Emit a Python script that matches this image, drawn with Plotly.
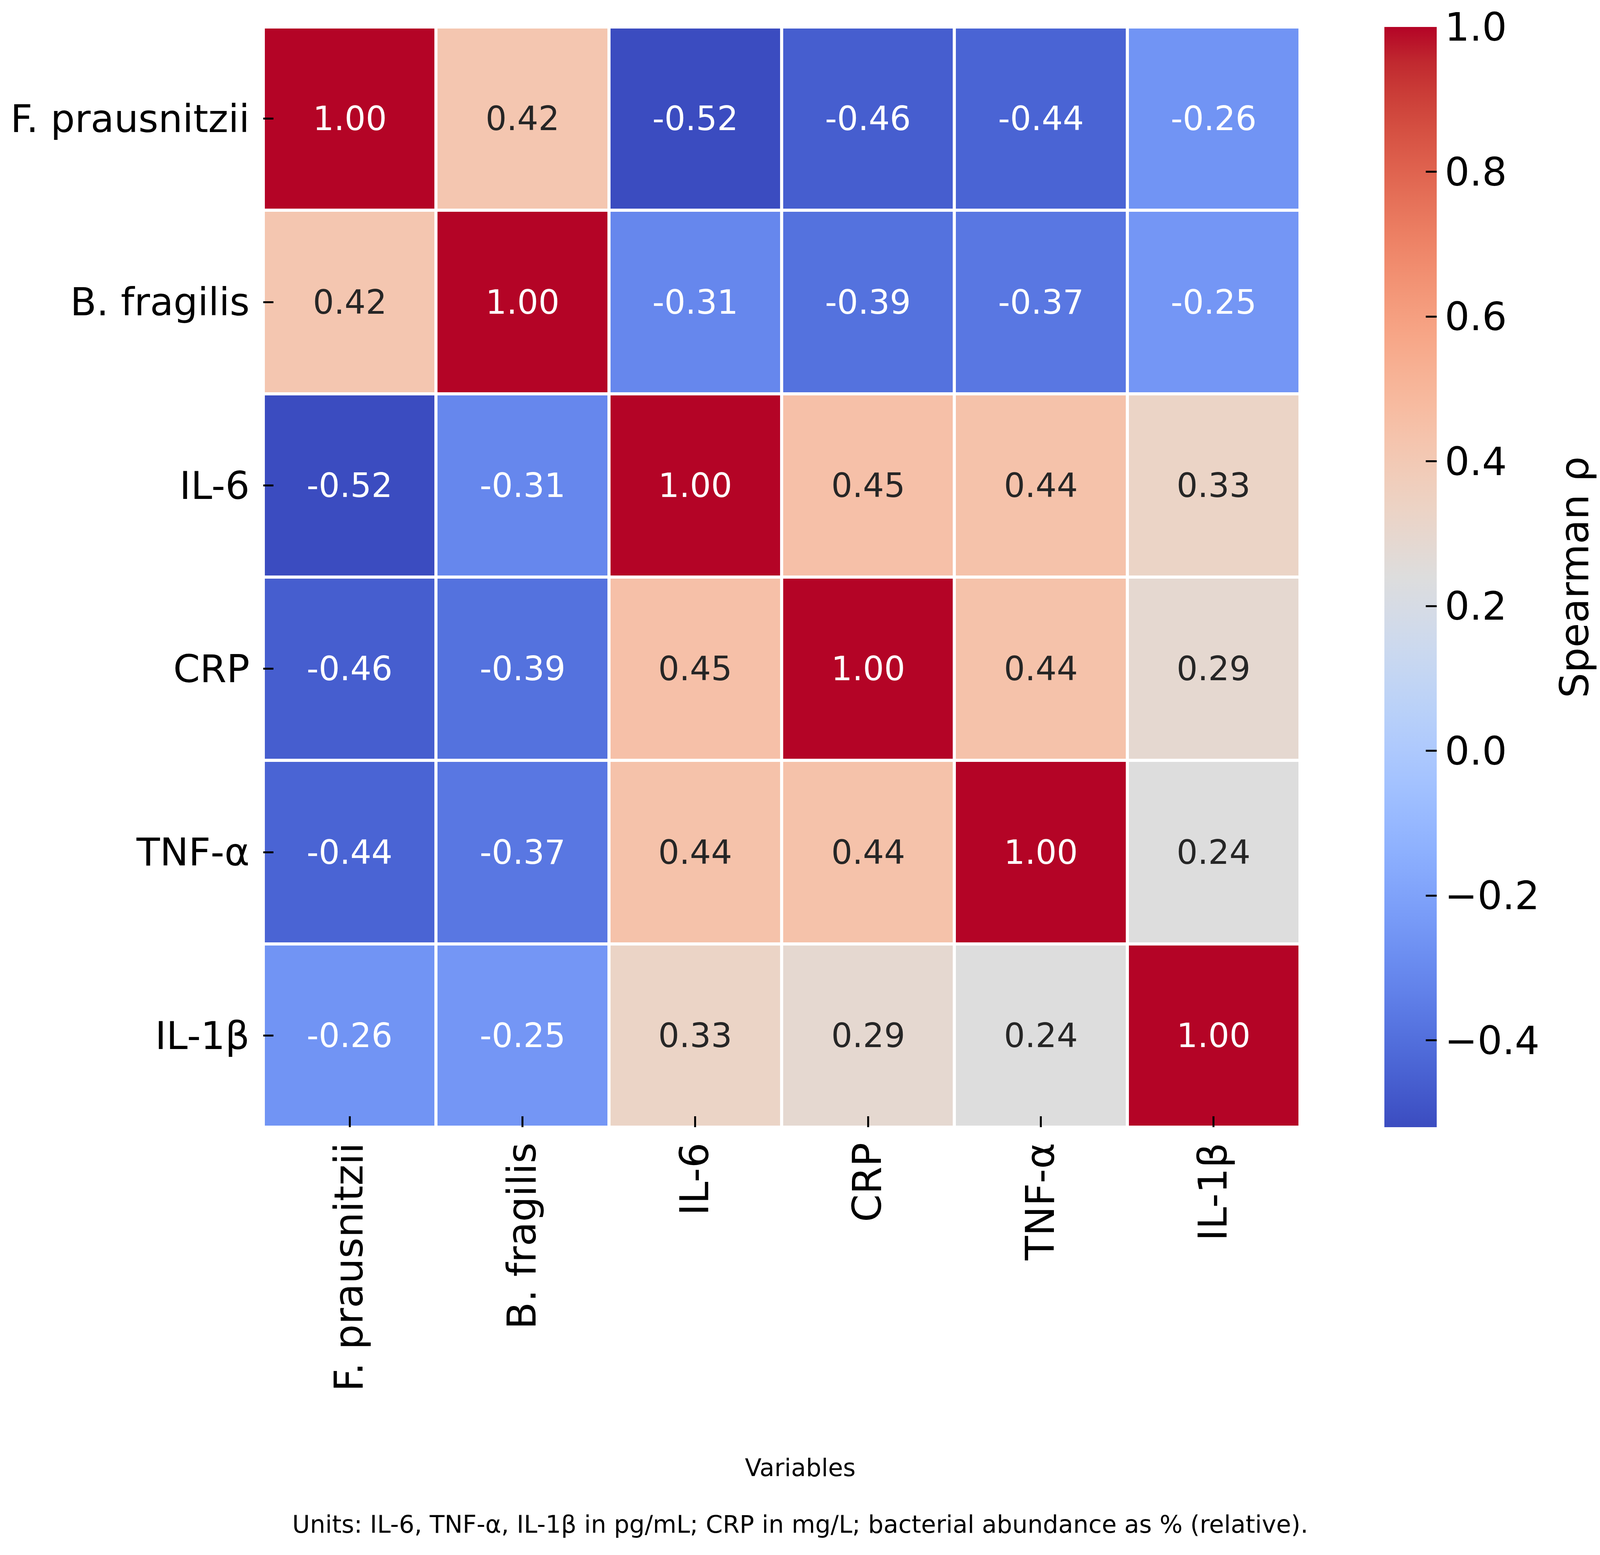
import plotly.graph_objects as go

# data
VARIABLES = ["F. prausnitzii", "B. fragilis", "IL-6", "CRP", "TNF-α", "IL-1β"]
RHO = [
    [1.00, 0.42, -0.52, -0.46, -0.44, -0.26],
    [0.42, 1.00, -0.31, -0.39, -0.37, -0.25],
    [-0.52, -0.31, 1.00, 0.45, 0.44, 0.33],
    [-0.46, -0.39, 0.45, 1.00, 0.44, 0.29],
    [-0.44, -0.37, 0.44, 0.44, 1.00, 0.24],
    [-0.26, -0.25, 0.33, 0.29, 0.24, 1.00],
]
CBAR_TICKS = [1.0, 0.8, 0.6, 0.4, 0.2, 0.0, -0.2, -0.4]
CBAR_TICKTEXT = ["1.0", "0.8", "0.6", "0.4", "0.2", "0.0", "\u22120.2", "\u22120.4"]
Z_MIN, Z_MAX = -0.52, 1.0

# matplotlib "coolwarm" (Moreland) control points
COOLWARM = [
    (59, 76, 192), (68, 90, 204), (77, 104, 215), (87, 117, 225), (98, 130, 234),
    (108, 142, 241), (119, 154, 247), (130, 165, 251), (141, 176, 254), (152, 185, 255),
    (163, 194, 255), (174, 201, 253), (184, 208, 249), (194, 213, 244), (204, 217, 238),
    (213, 219, 230), (221, 221, 221), (229, 216, 209), (236, 211, 197), (241, 204, 185),
    (245, 196, 173), (247, 187, 160), (247, 177, 148), (247, 166, 135), (244, 154, 123),
    (241, 141, 111), (236, 127, 99), (229, 112, 88), (222, 96, 77), (213, 80, 66),
    (203, 62, 56), (192, 40, 47), (180, 4, 38),
]
COLORSCALE = [[i / (len(COOLWARM) - 1), f"rgb{c}"] for i, c in enumerate(COOLWARM)]

# the page is shown in a 4096 px wide viewport, body margin 8 px
SX = 4096 / 4353
BODY = 8
W, H = 4096 - BODY, 3980 - BODY


def fx(ref_x):
    return ref_x * SX - BODY


def fy(ref_y):
    return ref_y - BODY


M_L = round(fx(716))
M_R = W - round(fx(3537))
M_T = round(fy(69))
M_B = H - round(fy(2885))
PLOT_W = W - M_L - M_R
PLOT_H = H - M_T - M_B
FONT = "DejaVu Sans, Arial, sans-serif"


def paper_x(ref_x):
    return (fx(ref_x) - M_L) / PLOT_W


def paper_y(ref_y):
    return (H - M_B - fy(ref_y)) / PLOT_H


def cmap(value):
    t = min(max((value - Z_MIN) / (Z_MAX - Z_MIN), 0.0), 1.0)
    pos = t * (len(COOLWARM) - 1)
    i = min(int(pos), len(COOLWARM) - 2)
    f = pos - i
    return [(a + (b - a) * f) / 255 for a, b in zip(COOLWARM[i], COOLWARM[i + 1])]


def luminance(rgb):
    lin = [c / 12.92 if c <= 0.03928 else ((c + 0.055) / 1.055) ** 2.4 for c in rgb]
    return 0.2126 * lin[0] + 0.7152 * lin[1] + 0.0722 * lin[2]


fig = go.Figure(
    go.Heatmap(
        z=RHO,
        x=VARIABLES,
        y=VARIABLES,
        zmin=Z_MIN,
        zmax=Z_MAX,
        colorscale=COLORSCALE,
        xgap=8,
        ygap=8,
        hovertemplate="%{y} vs %{x}<br>ρ = %{z:.2f}<extra></extra>",
        colorbar={
            "x": paper_x(3766),
            "xanchor": "left",
            "xpad": 0,
            "y": 0.5,
            "yanchor": "middle",
            "ypad": 0,
            "len": 1,
            "lenmode": "fraction",
            "thickness": round((3908 - 3766) * SX),
            "thicknessmode": "pixels",
            "outlinewidth": 0,
            "tickmode": "array",
            "tickvals": CBAR_TICKS,
            "ticktext": CBAR_TICKTEXT,
            "ticks": "inside",
            "ticklen": 28,
            "tickwidth": 5,
            "tickcolor": "#000000",
            "tickfont": {"size": 100, "color": "#000000", "family": FONT},
        },
    )
)

annotations = []
for r, row_name in enumerate(VARIABLES):
    for c, col_name in enumerate(VARIABLES):
        val = RHO[r][c]
        color = "#262626" if luminance(cmap(val)) > 0.408 else "#FFFFFF"
        annotations.append(
            {
                "x": col_name,
                "y": row_name,
                "xref": "x",
                "yref": "y",
                "text": f"{val:.2f}",
                "showarrow": False,
                "font": {"size": 85, "color": color, "family": FONT},
            }
        )

# colorbar label and figure-level captions
annotations += [
    {
        "x": paper_x(4348),
        "y": 0.5,
        "xref": "paper",
        "yref": "paper",
        "text": "Spearman ρ",
        "textangle": -90,
        "showarrow": False,
        "font": {"size": 102, "color": "#000000", "family": FONT},
    },
    {
        "x": paper_x(4353 / 2),
        "y": paper_y(3795),
        "xref": "paper",
        "yref": "paper",
        "text": "Variables",
        "showarrow": False,
        "font": {"size": 62, "color": "#000000", "family": FONT},
    },
    {
        "x": paper_x(4353 / 2),
        "y": paper_y(3940),
        "xref": "paper",
        "yref": "paper",
        "text": "Units: IL-6, TNF-α, IL-1β in pg/mL; CRP in mg/L; bacterial abundance as % (relative).",
        "showarrow": False,
        "font": {"size": 62, "color": "#000000", "family": FONT},
    },
]

fig.update_layout(
    width=W,
    height=H,
    margin={"l": M_L, "r": M_R, "t": M_T, "b": M_B, "autoexpand": False},
    paper_bgcolor="#FFFFFF",
    plot_bgcolor="#FFFFFF",
    font={"family": FONT, "color": "#000000"},
    annotations=annotations,
)
fig.update_xaxes(
    showgrid=False,
    zeroline=False,
    showline=False,
    ticks="inside",
    ticklen=28,
    tickwidth=5,
    tickcolor="#000000",
    tickangle=-90,
    ticklabelstandoff=18,
    tickfont={"size": 102, "color": "#000000", "family": FONT},
)
fig.update_yaxes(
    autorange="reversed",
    showgrid=False,
    zeroline=False,
    showline=False,
    ticks="inside",
    ticklen=26,
    tickwidth=5,
    tickcolor="#000000",
    ticklabelstandoff=34,
    tickfont={"size": 98, "color": "#000000", "family": FONT},
)

fig.write_html("out.html")
